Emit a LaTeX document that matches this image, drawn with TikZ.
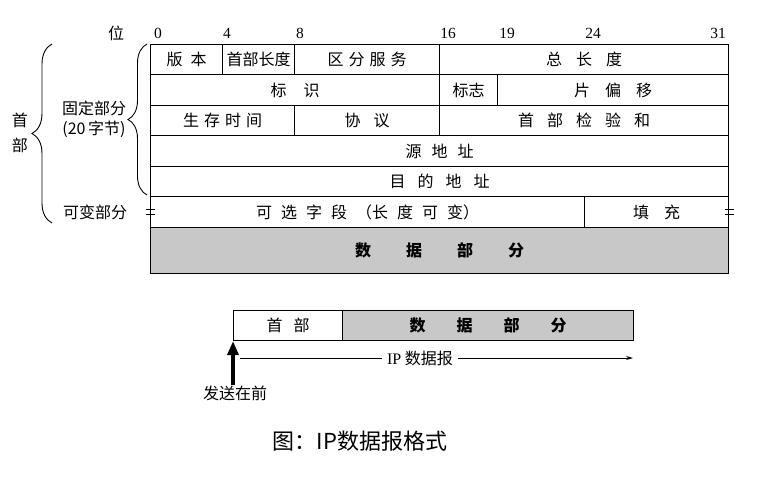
\documentclass[tikz,border=0pt]{standalone}
\usepackage{fontspec}
\setmainfont{Liberation Serif}
\newfontfamily\cjk{Noto Sans CJK SC}
\usetikzlibrary{arrows.meta,decorations.pathreplacing}
\definecolor{datagray}{HTML}{C8C8C8}
% horizontal gap between spaced-out characters
\newcommand\gap[1]{\hspace*{#1pt}}
% one header field: style, name, x1, y1, x2, y2, text (y grows downward)
\newcommand\fld[7]{%
  \node[#1, minimum width={(#5-#3)*1pt}, minimum height={(#6-#4)*1pt}] (#2) at (#3,#4) {#7};}

\begin{document}
\begin{tikzpicture}[x=1pt,y=-1pt,
  every node/.style={inner sep=0pt},
  cn/.style={font=\cjk\fontsize{16}{16}\selectfont},
  field/.style={draw, line width=1.1pt, anchor=north west, cn},
  datafield/.style={field, fill=datagray, font=\cjk\bfseries\fontsize{16}{16}\selectfont},
  bitlabel/.style={font=\fontsize{15.5}{15.5}\selectfont},
  sidebrace/.style={draw, line width=0.9pt, decorate, decoration={brace, amplitude=#1}},
  varmark/.style={line width=1.5pt},
]
\useasboundingbox (0,0) rectangle (766,479);

% ---- bit positions ----
\node[cn] (wei) at (116,33) {位};
\node[bitlabel] (b0)  at (158,33) {0};
\node[bitlabel] (b4)  at (227,33) {4};
\node[bitlabel] (b8)  at (300,33) {8};
\node[bitlabel] (b16) at (448,33) {16};
\node[bitlabel] (b19) at (507,33) {19};
\node[bitlabel] (b24) at (593,33) {24};
\node[bitlabel] (b31) at (718,33) {31};

% ---- fixed header (20 bytes) ----
\fld{field}{ver}{150}{44}{222}{74}{版\gap{8}本}
\fld{field}{ihl}{222}{44}{294}{74}{首部长度}
\fld{field}{ds}{294}{44}{439}{74}{区\gap{5}分\gap{5}服\gap{5}务}
\fld{field}{tlen}{439}{44}{728}{74}{总\gap{14}长\gap{14}度}

\fld{field}{ident}{150}{74}{439}{105}{标\gap{17}识}
\fld{field}{flags}{439}{74}{497}{105}{标志}
\fld{field}{frag}{497}{74}{728}{105}{片\gap{15}偏\gap{15}移}

\fld{field}{ttl}{150}{105}{294}{135}{生\gap{5}存\gap{5}时\gap{5}间}
\fld{field}{proto}{294}{105}{439}{135}{协\gap{13}议}
\fld{field}{cksum}{439}{105}{728}{135}{首\gap{13}部\gap{13}检\gap{13}验\gap{13}和}

\fld{field}{src}{150}{135}{728}{166}{源\gap{10}地\gap{10}址}
\fld{field}{dst}{150}{166}{728}{196}{目\gap{12}的\gap{12}地\gap{12}址}

% ---- variable part ----
\fld{field}{opt}{150}{196}{584}{227}{可\gap{9}选\gap{9}字\gap{9}段\gap{9}（长\gap{9}度\gap{9}可\gap{9}变）}
\fld{field}{pad}{584}{196}{728}{227}{填\gap{15}充}

% ---- data ----
\fld{datafield}{data}{150}{227}{728}{273}{数\gap{35}据\gap{35}部\gap{35}分}

% variable-length marks on both edges of the options row
\draw[varmark] ([xshift=-4.5pt,yshift=2.5pt]opt.west) -- ++(9,0)
               ([xshift=-4.5pt,yshift=-2.5pt]opt.west) -- ++(9,0);
\draw[varmark] ([xshift=-4.5pt,yshift=2.5pt]pad.east) -- ++(9,0)
               ([xshift=-4.5pt,yshift=-2.5pt]pad.east) -- ++(9,0);

% ---- braces and side labels ----
\draw[sidebrace=19pt] (147,195) -- (147,44);
\draw[sidebrace=20pt] (52,223) -- (52,44);
\node[cn] (hdrA) at (20,120) {首};
\node[cn] (hdrB) at (20,145) {部};
\node[cn] (fixedA) at (94,108) {固定部分};
\node[cn] (fixedB) at (94,129) {(20\,字节)};
\node[cn] (varlbl) at (95,212) {可变部分};

% ---- datagram overview ----
\fld{field}{hdr}{233}{310}{342}{340}{首\gap{11}部}
\fld{datafield}{body}{342}{310}{633}{340}{数\gap{31}据\gap{31}部\gap{31}分}

\coordinate (dgstart) at (240,358);
\coordinate (dgend) at (633,358);
\draw[line width=0.9pt, -{Stealth[length=7pt,width=4pt]}] (dgstart) -- (dgend);
\node[cn, fill=white, inner xsep=5pt, inner ysep=2pt] (dgram) at (420,358)
  {{\rmfamily\fontsize{16}{16}\selectfont IP} 数据报};

\node[cn] (send) at (235,393) {发送在前};
\draw[line width=3.5pt, -{Triangle[length=14pt,width=11pt]}] (send.north -| hdr.south west) -- (hdr.south west);

% ---- caption ----
\node[font=\cjk\fontsize{22}{22}\selectfont] (caption) at (360,441) {图：IP数据报格式};
\end{tikzpicture}
\end{document}
